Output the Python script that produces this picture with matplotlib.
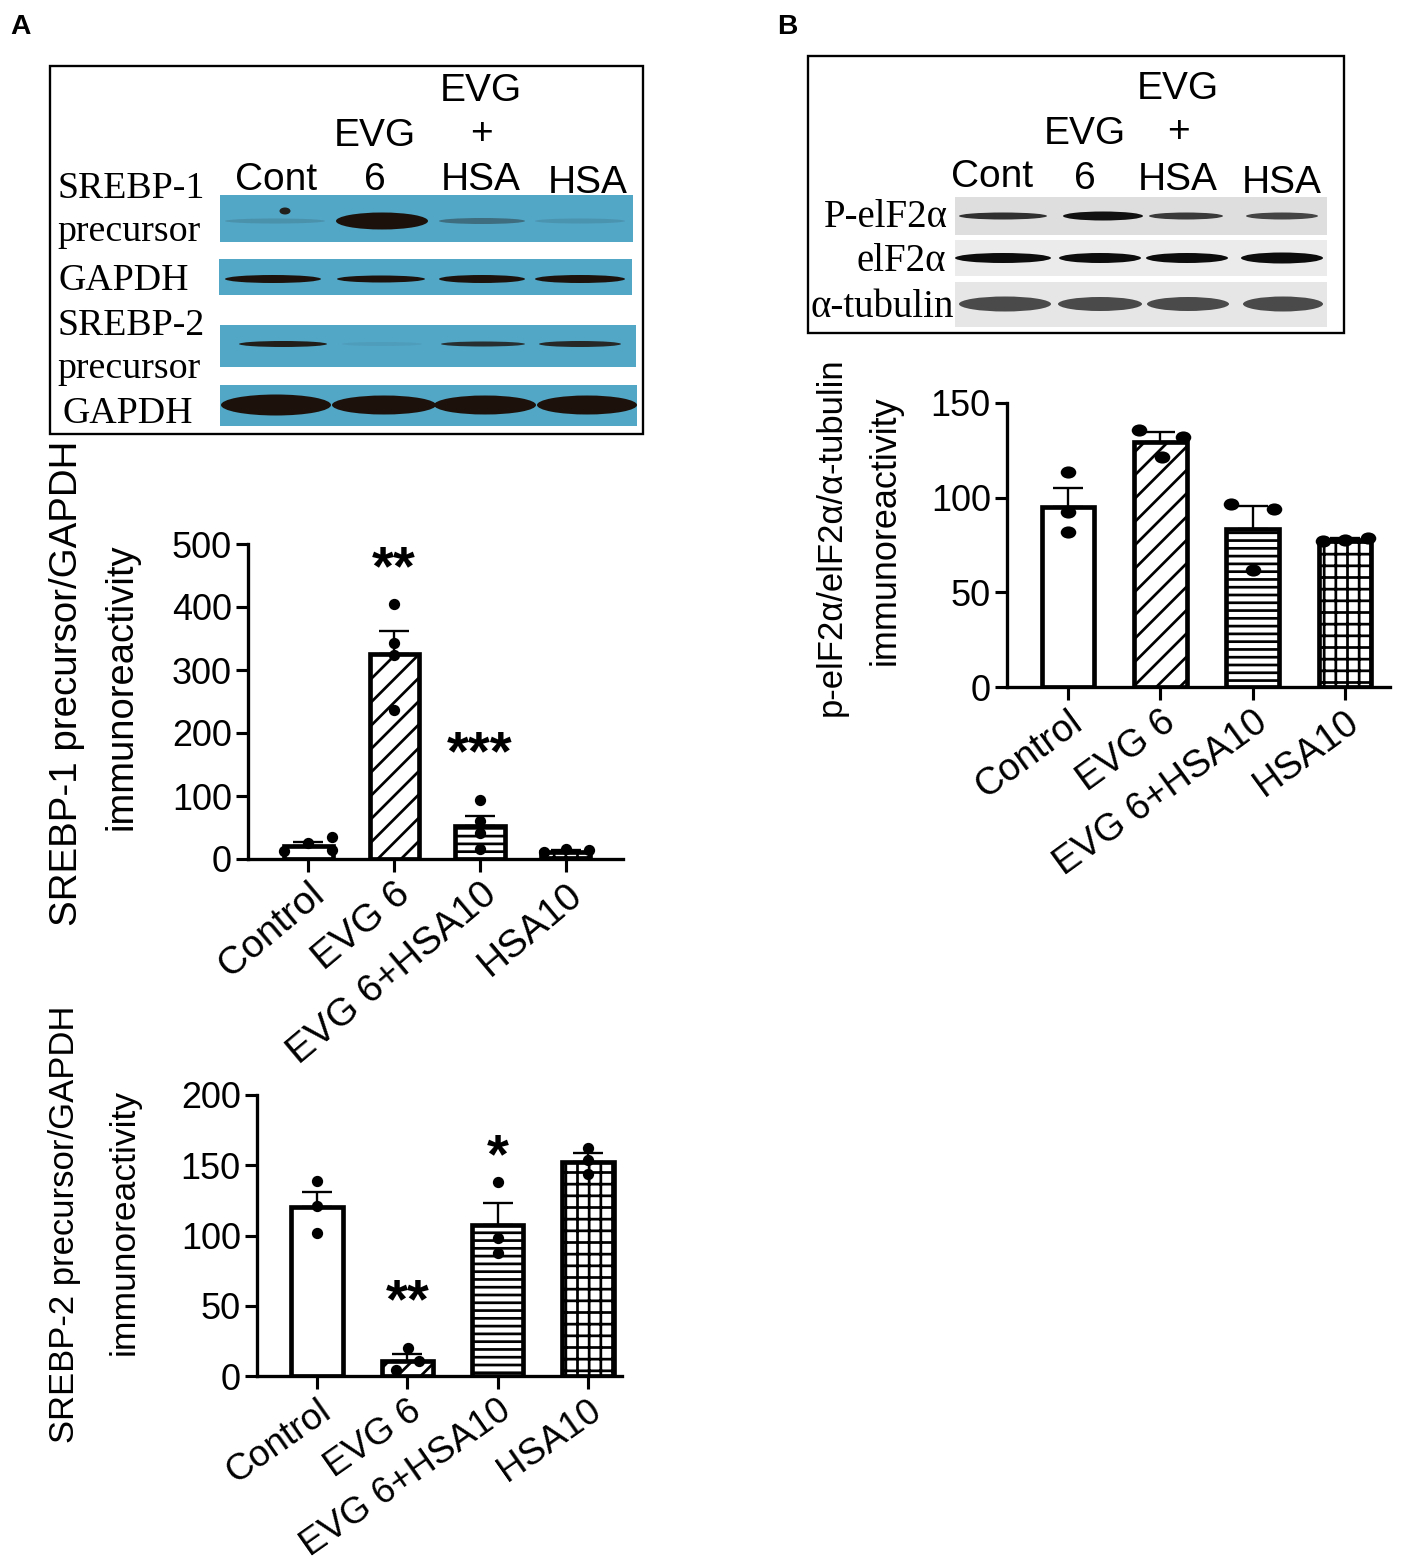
import matplotlib
matplotlib.use("Agg")
import matplotlib.pyplot as plt
from matplotlib.patches import Rectangle, Ellipse
from matplotlib.path import Path
from matplotlib.transforms import ScaledTranslation
import numpy as np

plt.rcParams['font.family'] = ['Liberation Sans', 'DejaVu Sans']
plt.rcParams['hatch.linewidth'] = 1.4

# ---------------- data ----------------
groups = ["Control", "EVG 6", "EVG 6+HSA10", "HSA10"]

# Panel A top: SREBP-1 precursor / GAPDH
a1_mean = [21, 326, 52, 11]
a1_sem = [6.5, 36, 17, 4]
a1_points = [[12, 26, 35, 14], [405, 343, 324, 237], [93, 61, 41, 16], [11.6, 15.9, 13.7]]
a1_stars = [(1, 482, "**"), (2, 189, "***")]

# Panel A bottom: SREBP-2 precursor / GAPDH
a2_mean = [120, 10.5, 107.5, 152.3]
a2_sem = [11, 5.3, 15.5, 6.4]
a2_points = [[139, 121, 102], [20, 10.7, 4.3], [137.8, 98, 87.8], [162.5, 153.7, 143.8]]
a2_stars = [(1, 62.6, "**"), (2, 166, "*")]

# Panel B: p-eIF2a / eIF2a / a-tubulin
b_mean = [95.3, 129.2, 83.5, 77.6]
b_sem = [9.7, 5.3, 12.1, 0.9]
b_points = [[113.3, 92.3, 82], [135.9, 132, 121.4], [96.7, 94, 62], [77.3, 78.5, 77.5]]
b_stars = [(1, 166, "*")]

# blot band intensities (0-1) per lane
band_srebp1 = [0.14, 1.0, 0.38, 0.12]
band_gapdh1 = [1.0, 1.0, 1.0, 1.0]
band_srebp2 = [0.92, 0.06, 0.8, 0.85]
band_gapdh2 = [1.0, 1.0, 1.0, 1.0]
band_peif = [0.85, 1.0, 0.8, 0.75]
band_eif = [1.0, 1.0, 1.0, 1.0]
band_tub = [1.0, 1.0, 1.0, 1.0]

# ---------------- styles / positions ----------------
W, H = 1418, 1567
DPI = 140
fig = plt.figure(figsize=(W / DPI, H / DPI), dpi=DPI)

ov = fig.add_axes([0, 0, 1, 1], zorder=0)
ov.set_xlim(0, W)
ov.set_ylim(H, 0)
ov.axis('off')

hatches = ['', '//', '---', '++']
a1_off = [[-0.28, 0, 0.28, 0.28], [0, 0, 0, 0], [0, 0, 0, 0], [-0.26, 0, 0.27]]
a2_off = [[0, 0, 0], [0.01, 0.13, -0.13], [0, 0, 0], [0, 0, 0]]
b_off = [[0, 0, 0], [-0.23, 0.25, 0.02], [-0.23, 0.23, 0], [-0.24, 0.25, 0]]

SERIF = ['Liberation Serif', 'DejaVu Serif']

# panel letters
ov.text(20, 27, "A", fontsize=14.5, fontweight='bold', ha='center', va='center')
ov.text(787, 27, "B", fontsize=14.5, fontweight='bold', ha='center', va='center')


def strip(x0, x1, y0, y1, color):
    ov.add_patch(Rectangle((x0, y0), x1 - x0, y1 - y0, facecolor=color, edgecolor='none', zorder=1))


def bands(xc, yc, widths, thick, inten, color):
    for x, w, t, a in zip(xc, widths, thick, inten):
        ov.add_patch(Ellipse((x, yc), w, t, facecolor=color, edgecolor='none', alpha=a, zorder=2))


# ---------------- Blot A ----------------
ov.add_patch(Rectangle((50, 66), 593, 368, facecolor='none', edgecolor='black', lw=1.2, zorder=3))
blue = '#52a6c6'
brown = '#1d120b'
strip(220, 633, 195, 242, blue)
strip(219, 632, 259, 295, blue)
strip(220, 636, 325, 367, blue)
strip(220, 637, 385, 426, blue)
bands([275, 382, 482, 580], 221, [100, 92, 86, 90], [5, 17, 6, 5], band_srebp1, brown)
ov.add_patch(Ellipse((285, 211), 11, 7, facecolor=brown, edgecolor='none', alpha=0.9, zorder=2))
bands([273, 381, 482, 580], 279, [96, 88, 86, 90], [8, 7, 8, 8], band_gapdh1, brown)
bands([283, 382, 483, 580], 344, [88, 80, 84, 82], [6, 4, 5, 6], band_srebp2, brown)
bands([276, 384, 485, 587], 405, [110, 104, 102, 100], [21, 19, 19, 19], band_gapdh2, brown)

hdr = 20
ov.text(276, 190, "Cont", fontsize=hdr, ha='center', va='baseline')
ov.text(375, 190, "6", fontsize=hdr, ha='center', va='baseline')
ov.text(375, 146, "EVG", fontsize=hdr, ha='center', va='baseline')
ov.text(481, 190, "HSA", fontsize=hdr, ha='center', va='baseline')
ov.text(481, 144, "+", fontsize=hdr, ha='center', va='baseline')
ov.text(481, 101, "EVG", fontsize=hdr, ha='center', va='baseline')
ov.text(588, 193, "HSA", fontsize=hdr, ha='center', va='baseline')

sl = 19.5
ov.text(57, 198, "SREBP-1", fontsize=sl, family=SERIF, ha='left', va='baseline')
ov.text(57, 241, "precursor", fontsize=sl, family=SERIF, ha='left', va='baseline')
ov.text(59, 290, "GAPDH", fontsize=sl, family=SERIF, ha='left', va='baseline')
ov.text(57, 335, "SREBP-2", fontsize=sl, family=SERIF, ha='left', va='baseline')
ov.text(57, 378, "precursor", fontsize=sl, family=SERIF, ha='left', va='baseline')
ov.text(62, 423, "GAPDH", fontsize=sl, family=SERIF, ha='left', va='baseline')

# ---------------- Blot B ----------------
ov.add_patch(Rectangle((808, 56), 536, 277, facecolor='none', edgecolor='black', lw=1.2, zorder=3))
strip(955, 1327, 197, 235, '#dedede')
strip(955, 1327, 240, 276, '#ebebeb')
strip(955, 1327, 282, 327, '#e6e6e6')
bands([1003, 1103, 1186, 1282], 216, [88, 80, 74, 72], [7, 9, 7, 7], band_peif, '#111111')
bands([1003, 1100, 1187, 1282], 258, [96, 82, 82, 82], [10, 10, 10, 11], band_eif, '#0c0c0c')
bands([1005, 1100, 1188, 1283], 304, [92, 84, 82, 80], [15, 14, 14, 15], band_tub, '#4a4a4a')

ov.text(992, 187, "Cont", fontsize=hdr, ha='center', va='baseline')
ov.text(1085, 189, "6", fontsize=hdr, ha='center', va='baseline')
ov.text(1085, 144, "EVG", fontsize=hdr, ha='center', va='baseline')
ov.text(1178, 190, "HSA", fontsize=hdr, ha='center', va='baseline')
ov.text(1178, 142, "+", fontsize=hdr, ha='center', va='baseline')
ov.text(1178, 99, "EVG", fontsize=hdr, ha='center', va='baseline')
ov.text(1282, 193, "HSA", fontsize=hdr, ha='center', va='baseline')

ov.text(948, 227, "P-elF2α", fontsize=20, family=SERIF, ha='right', va='baseline')
ov.text(946, 271, "elF2α", fontsize=20, family=SERIF, ha='right', va='baseline')
ov.text(810, 317, "α-tubulin", fontsize=20, family=SERIF, ha='left', va='baseline')

# ---------------- bar panels ----------------
oval = Path.unit_circle()
oval = Path(oval.vertices * np.array([1.0, 0.75]), oval.codes)


def bar_panel(rect, xlim, means, sems, points, offs, ymax, ystep, stars, ms, marker, rot, xfs, dy):
    ax = fig.add_axes(rect, zorder=2)
    ax.patch.set_alpha(0)
    x = np.arange(len(groups))
    for i in range(len(groups)):
        ax.bar(x[i], means[i], width=0.57, color='white', edgecolor='black',
               linewidth=2.4, hatch=hatches[i], zorder=2)
    ax.errorbar(x, means, yerr=[np.zeros(len(groups)), sems], fmt='none', ecolor='black',
                elinewidth=1.2, capsize=7.5, capthick=1.2, zorder=3)
    for i, (pts, of) in enumerate(zip(points, offs)):
        ax.plot(x[i] + np.array(of), pts, linestyle='none', marker=marker, ms=ms,
                color='black', zorder=4, clip_on=False)
    for xi, yi, s in stars:
        ax.annotate(s, (xi, yi), xytext=(0, -15), textcoords='offset points',
                    ha='center', va='baseline', fontsize=29, fontweight='bold')
    ax.set_xlim(*xlim)
    ax.set_ylim(0, ymax)
    ax.set_yticks(np.arange(0, ymax + 1, ystep))
    ax.set_xticks(x)
    ax.set_xticklabels(groups, rotation=rot, ha='right', va='top', rotation_mode='anchor',
                       fontsize=xfs)
    shift = ScaledTranslation(-15 / DPI, dy / DPI, fig.dpi_scale_trans)
    for lab in ax.get_xticklabels():
        lab.set_transform(lab.get_transform() + shift)
    for sp in ['top', 'right']:
        ax.spines[sp].set_visible(False)
    for sp in ['left', 'bottom']:
        ax.spines[sp].set_linewidth(1.7)
    ax.tick_params(axis='y', length=6.3, width=1.6, pad=2, labelsize=18.5)
    ax.tick_params(axis='x', length=6.8, width=1.6, pad=2)
    return ax


bar_panel([248 / W, 1 - 859 / H, (623 - 248) / W, (859 - 544) / H], (-0.698, 3.663),
          a1_mean, a1_sem, a1_points, a1_off, 500, 100, a1_stars, 4.8, 'o', 40, 20, 3)
bar_panel([257 / W, 1 - 1376 / H, (622 - 257) / W, (1376 - 1095) / H], (-0.664, 3.376),
          a2_mean, a2_sem, a2_points, a2_off, 200, 50, a2_stars, 4.8, 'o', 35, 19, 5)
bar_panel([1007 / W, 1 - 687 / H, (1390 - 1007) / W, (687 - 403) / H], (-0.661, 3.487),
          b_mean, b_sem, b_points, b_off, 150, 50, b_stars, 7, oval, 36, 19.5, 6)

# y labels
ov.text(67, 683, "SREBP-1 precursor/GAPDH", fontsize=19.8, rotation=90, ha='center', va='center')
ov.text(121, 687, "immunoreactivity", fontsize=19.6, rotation=90, ha='center', va='center')
ov.text(65, 1224, "SREBP-2 precursor/GAPDH", fontsize=17.8, rotation=90, ha='center', va='center')
ov.text(124, 1222, "immunoreactivity", fontsize=18.2, rotation=90, ha='center', va='center')
ov.text(831, 537, "p-elF2α/elF2α/α-tubulin", fontsize=17.8, rotation=90, ha='center', va='center')
ov.text(885, 530, "immunoreactivity", fontsize=18.5, rotation=90, ha='center', va='center')

fig.savefig("out.png", dpi=DPI)
